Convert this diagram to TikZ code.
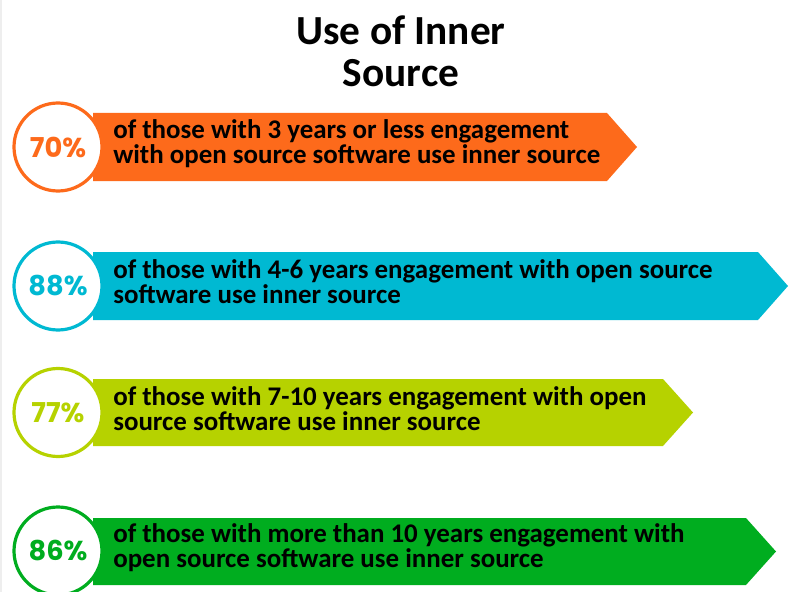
\documentclass[tikz,border=0pt]{standalone}
\usepackage{fontspec}
\setmainfont{Carlito}
\newfontfamily\pctfont{Poppins}
\definecolor{cOrange}{HTML}{FD6A1B}
\definecolor{cCyan}{HTML}{00B9D2}
\definecolor{cLime}{HTML}{B6D200}
\definecolor{cGreen}{HTML}{00AD1F}
\definecolor{cEdge}{HTML}{EEEEEE}
\tikzset{
  ring/.style={draw=#1, line width=2.4pt, fill=white},
  pct/.style={text=#1, font=\pctfont\bfseries\fontsize{20.5}{22}\selectfont, inner sep=0pt},
  desc/.style={anchor=west, align=left, inner sep=0pt, font=\bfseries\fontsize{20.2}{17.4}\selectfont},
  ttl/.style={align=center, inner sep=0pt, font=\bfseries\fontsize{31}{31.5}\selectfont}
}
\begin{document}
\begin{tikzpicture}[x=0.75pt,y=-0.75pt]
\useasboundingbox (0,0) rectangle (797,592);
\fill[white] (0,0) rectangle (797,592);
\fill[cEdge] (0,0) rectangle (2,592);
\node[ttl] (title) at (401,51) {Use of Inner\\Source};
% banner 1
\fill[cOrange] (93,113) -- (607,113) -- (637,147) -- (607,181) -- (93,181) -- cycle;
\node[ring=cOrange, circle, minimum size=66pt, inner sep=0pt] (c1) at (58,147) {};
\node[pct=cOrange] (p1) at (c1) {70\%};
\node[desc] (t1) at (113,143.5) {of those with 3 years or less engagement\\with open source software use inner source};
% banner 2
\fill[cCyan] (93,252) -- (758,252) -- (788,286) -- (758,320) -- (93,320) -- cycle;
\node[ring=cCyan, circle, minimum size=66pt, inner sep=0pt] (c2) at (58,286) {};
\node[pct=cCyan] (p2) at (c2) {88\%};
\node[desc] (t2) at (113,282) {of those with 4-6 years engagement with open source\\software use inner source};
% banner 3
\fill[cLime] (93,379) -- (663,379) -- (693,412.5) -- (663,446) -- (93,446) -- cycle;
\node[ring=cLime, circle, minimum size=66pt, inner sep=0pt] (c3) at (58,412.5) {};
\node[pct=cLime] (p3) at (c3) {77\%};
\node[desc] (t3) at (113,409) {of those with 7-10 years engagement with open\\source software use inner source};
% banner 4
\fill[cGreen] (93,518) -- (746,518) -- (776,551.5) -- (746,585) -- (93,585) -- cycle;
\node[ring=cGreen, circle, minimum size=66pt, inner sep=0pt] (c4) at (58,551) {};
\node[pct=cGreen] (p4) at (c4) {86\%};
\node[desc] (t4) at (113,547.5) {of those with more than 10 years engagement with\\open source software use inner source};
\end{tikzpicture}
\end{document}
